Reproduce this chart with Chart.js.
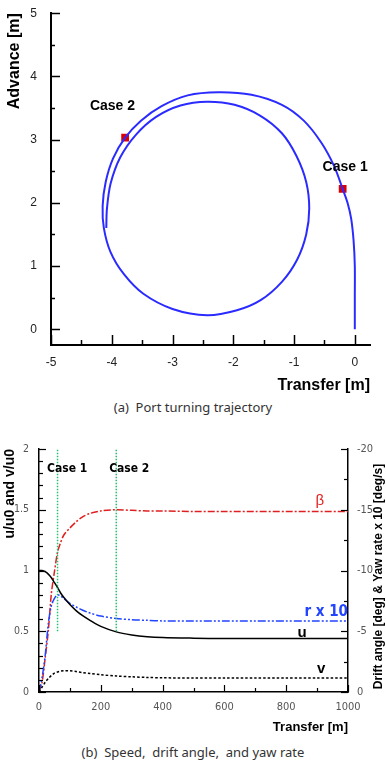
<!DOCTYPE html>
<html>
<head>
<meta charset="utf-8">
<script src="https://cdn.jsdelivr.net/npm/chart.js@4.4.1/dist/chart.umd.min.js"></script>
<style>
  body { margin: 0; width: 386px; height: 760px; overflow: hidden; background: #fff; position: relative; font-family: "Liberation Sans", Arial, sans-serif; }
  canvas { position: absolute; left: 0; }
  .caption { position: absolute; left: 0; width: 386px; text-align: center; font: 13px "Noto Sans", sans-serif; color: #333; }
</style>
</head>
<body>
<canvas id="trajChart" width="386" height="395" style="top:0"></canvas>
<div class="caption" style="top:398px">(a)&nbsp; Port turning trajectory</div>
<canvas id="speedChart" width="386" height="315" style="top:420px"></canvas>
<div class="caption" style="top:743px">(b)&nbsp; Speed,&nbsp; drift angle,&nbsp; and yaw rate</div>

<script>
// ================================
// DATA
// ================================

// (a) trajectory: first loop, then the steady turning circle
const trajX = [0, 0, 0, -0.02, -0.06, -0.12, -0.2, -0.34, -0.55, -0.84, -1.2, -1.7, -2.25, -2.75, -3.18, -3.52, -3.78, -3.98, -4.1, -4.15, -4.13, -4.02, -3.8, -3.48, -3.0, -2.43,
               -1.94, -1.55, -1.2, -0.95, -0.8, -0.75, -0.8, -0.96, -1.2, -1.56, -1.98, -2.43, -2.87, -3.27, -3.6, -3.86, -4.02, -4.08, -4.09];
const trajY = [0, 0.5, 1.0, 1.4, 1.75, 2.0, 2.22, 2.58, 2.95, 3.3, 3.55, 3.71, 3.75, 3.7, 3.53, 3.3, 3.03, 2.7, 2.33, 1.95, 1.6, 1.22, 0.87, 0.56, 0.32, 0.22,
               0.3, 0.46, 0.75, 1.1, 1.5, 1.91, 2.33, 2.74, 3.1, 3.38, 3.55, 3.6, 3.54, 3.36, 3.08, 2.72, 2.3, 1.9, 1.6];
const caseNames = ["Case 1", "Case 2"];
const casePosX = [-0.2, -3.78];
const casePosY = [2.22, 3.03];
const trajXTicks = [-5, -4, -3, -2, -1, 0];
const trajYTicks = [0, 1, 2, 3, 4, 5];

// (b) speed, drift angle, yaw rate
const transfer = [0, 10, 20, 30, 40, 50, 60, 70, 80, 100, 120, 140, 165, 200, 250, 300, 350, 400, 500, 600, 700, 800, 900, 1000];
const uRatio   = [1.0, 1.0, 0.99, 0.97, 0.94, 0.90, 0.86, 0.815, 0.78, 0.72, 0.67, 0.63, 0.59, 0.54, 0.495, 0.47, 0.455, 0.448, 0.443, 0.44, 0.44, 0.44, 0.44, 0.44];
const vRatio   = [0, 0.04, 0.08, 0.11, 0.135, 0.155, 0.165, 0.172, 0.175, 0.175, 0.168, 0.16, 0.152, 0.142, 0.132, 0.125, 0.12, 0.117, 0.115, 0.115, 0.115, 0.115, 0.115, 0.115];
const driftAngle = [0, -0.8, -2.8, -5.0, -8.1, -9.9, -11.5, -12.3, -12.9, -13.5, -14.0, -14.4, -14.7, -14.9, -15.0, -14.95, -14.9, -14.9, -14.85, -14.85, -14.85, -14.85, -14.85, -14.85];
const yawRate10  = [0, -1.2, -3.0, -5.6, -7.1, -7.7, -8.0, -7.9, -7.7, -7.3, -7.0, -6.75, -6.5, -6.25, -6.05, -5.95, -5.9, -5.85, -5.85, -5.85, -5.85, -5.85, -5.85, -5.85];
const caseTransfer = [60, 250];
const caseLineY = [0.5, 2];
const transferTicks = [0, 200, 400, 600, 800, 1000];
const ratioTicks = [0, 0.5, 1, 1.5, 2];
const angleTicks = [-20, -15, -10, -5, 0];

const FONT = '"Liberation Sans", Arial, sans-serif';
const NARROW = '"Liberation Sans Narrow", "DejaVu Sans Condensed", Arial, sans-serif';

// ================================
// PLUGINS
// ================================

// tick marks pointing into the plot area
const innerTicks = {
  id: "innerTicks",
  afterDraw(chart, args, opts) {
    const ctx = chart.ctx;
    const area = chart.chartArea;
    ctx.save();
    ctx.strokeStyle = "#000";
    ctx.lineWidth = opts.width || 1.5;
    (opts.axes || []).forEach(a => {
      const scale = chart.scales[a.id];
      const vals = scale.ticks.map(t => t.value);
      const marks = [];
      vals.forEach(v => marks.push([v, a.len]));
      for (let i = 0; i < vals.length - 1; i++) {
        for (let k = 1; k < a.minorPer; k++) {
          marks.push([vals[i] + (vals[i + 1] - vals[i]) * k / a.minorPer, a.minorLen]);
        }
      }
      marks.forEach(([v, len]) => {
        const p = Math.round(scale.getPixelForValue(v)) + 0.5;
        ctx.beginPath();
        if (a.side === "bottom") { ctx.moveTo(p, area.bottom); ctx.lineTo(p, area.bottom - len); }
        if (a.side === "left")   { ctx.moveTo(area.left, p); ctx.lineTo(area.left + len, p); }
        if (a.side === "right")  { ctx.moveTo(area.right, p); ctx.lineTo(area.right - len, p); }
        ctx.stroke();
      });
    });
    ctx.restore();
  }
};

// free text placed at data positions
const textLabels = {
  id: "textLabels",
  afterDraw(chart, args, opts) {
    const ctx = chart.ctx;
    ctx.save();
    ctx.textBaseline = "middle";
    (opts.items || []).forEach(t => {
      const xs = chart.scales[t.xAxis || "x"];
      const ys = chart.scales[t.yAxis || "y"];
      ctx.font = t.font;
      ctx.fillStyle = t.color || "#000";
      ctx.textAlign = t.align || "left";
      ctx.fillText(t.text, xs.getPixelForValue(t.x), ys.getPixelForValue(t.y));
    });
    (opts.rotated || []).forEach(t => {
      const area = chart.chartArea;
      ctx.translate(t.x, (area.top + area.bottom) / 2 + t.dy);
      ctx.rotate(-Math.PI / 2);
      ctx.font = t.font;
      ctx.fillStyle = "#000";
      ctx.textAlign = "center";
      ctx.fillText(t.text, 0, 0);
      ctx.setTransform(1, 0, 0, 1, 0, 0);
    });
    ctx.restore();
  }
};

function fixedTicks(arr) {
  return scale => { scale.ticks = arr.map(v => ({ value: v })); };
}
const plainLabel = v => String(v);

// ================================
// (a) TRAJECTORY
// ================================
new Chart(document.getElementById("trajChart"), {
  type: "scatter",
  data: {
    datasets: [
      {
        data: trajX.map((x, i) => ({ x: x, y: trajY[i] })),
        showLine: true,
        borderColor: "#2b2bff",
        borderWidth: 2,
        pointRadius: 0,
        tension: 0.3
      },
      {
        data: casePosX.map((x, i) => ({ x: x, y: casePosY[i] })),
        pointStyle: "rect",
        pointRadius: 5.5,
        backgroundColor: "#dd0000",
        borderColor: "#dd0000",
        borderWidth: 0
      }
    ]
  },
  options: {
    responsive: false,
    animation: false,
    layout: { padding: { top: 12, right: 16, left: 0, bottom: 0 } },
    plugins: {
      legend: { display: false },
      tooltip: { enabled: false },
      innerTicks: {
        width: 1.5,
        axes: [
          { id: "x", side: "bottom", len: 10, minorLen: 5, minorPer: 2 },
          { id: "y", side: "left", len: 9, minorLen: 4, minorPer: 2 }
        ]
      },
      textLabels: {
        items: [
          { text: caseNames[1], x: -4.36, y: 3.53, font: "bold 14px " + FONT },
          { text: caseNames[0], x: -0.53, y: 2.56, font: "bold 14px " + FONT }
        ]
      }
    },
    scales: {
      x: {
        type: "linear",
        min: -5,
        max: 0.25,
        afterBuildTicks: fixedTicks(trajXTicks),
        afterFit: s => { s.height = 50; },
        grid: { display: false },
        border: { color: "#000", width: 2 },
        ticks: { color: "#222", padding: 2, font: { family: FONT, size: 12 }, callback: plainLabel },
        title: {
          display: true, text: "Transfer [m]", align: "end", color: "#000",
          padding: { top: 10, bottom: 0 },
          font: { family: FONT, size: 16, weight: "bold" }
        }
      },
      y: {
        type: "linear",
        min: -0.25,
        max: 5,
        afterBuildTicks: fixedTicks(trajYTicks),
        afterFit: s => { s.width = 51; },
        grid: { display: false },
        border: { color: "#000", width: 2 },
        ticks: { color: "#222", padding: 6, font: { family: FONT, size: 12 }, callback: plainLabel },
        title: {
          display: true, text: "Advance [m]", align: "end", color: "#000",
          padding: { top: 5, bottom: 0 },
          font: { family: FONT, size: 16, weight: "bold" }
        }
      }
    }
  },
  plugins: [innerTicks, textLabels]
});

// ================================
// (b) SPEED, DRIFT ANGLE, YAW RATE
// ================================
const lineDefaults = { pointRadius: 0, borderWidth: 1.5, fill: false, tension: 0.3 };

new Chart(document.getElementById("speedChart"), {
  type: "line",
  data: {
    datasets: [
      Object.assign({
        data: caseLineY.map(y => ({ x: caseTransfer[0], y: y })),
        borderColor: "#22c070", borderDash: [1.5, 1.5], yAxisID: "y"
      }, lineDefaults, { tension: 0 }),
      Object.assign({
        data: caseLineY.map(y => ({ x: caseTransfer[1], y: y })),
        borderColor: "#22c070", borderDash: [1.5, 1.5], yAxisID: "y"
      }, lineDefaults, { tension: 0 }),
      Object.assign({
        data: transfer.map((x, i) => ({ x: x, y: vRatio[i] })),
        borderColor: "#000", borderDash: [2.5, 2], yAxisID: "y"
      }, lineDefaults),
      Object.assign({
        data: transfer.map((x, i) => ({ x: x, y: uRatio[i] })),
        borderColor: "#000", yAxisID: "y"
      }, lineDefaults),
      Object.assign({
        data: transfer.map((x, i) => ({ x: x, y: yawRate10[i] })),
        borderColor: "#2244ff", borderDash: [8, 2, 2, 2, 2, 2], yAxisID: "y1"
      }, lineDefaults),
      Object.assign({
        data: transfer.map((x, i) => ({ x: x, y: driftAngle[i] })),
        borderColor: "#e02020", borderDash: [7, 2, 2, 2], yAxisID: "y1"
      }, lineDefaults)
    ]
  },
  options: {
    responsive: false,
    animation: false,
    layout: { padding: { top: 29, right: 0, left: 0, bottom: 0 } },
    plugins: {
      legend: { display: false },
      tooltip: { enabled: false },
      innerTicks: {
        width: 1.2,
        axes: [
          { id: "x", side: "bottom", len: 7, minorLen: 4, minorPer: 2 },
          { id: "y", side: "left", len: 7, minorLen: 4, minorPer: 5 },
          { id: "y1", side: "right", len: 7, minorLen: 4, minorPer: 2 }
        ]
      },
      textLabels: {
        items: [
          { text: caseNames[0], x: 26, y: 1.84, font: "bold 12px " + NARROW },
          { text: caseNames[1], x: 227, y: 1.84, font: "bold 12px " + NARROW },
          { text: "β", x: 909, y: 1.57, align: "center", color: "#e02020", font: "15px " + FONT },
          { text: "r x 10", x: 1000, y: 0.66, align: "right", color: "#2244ff", font: "bold 15px " + NARROW },
          { text: "u", x: 851, y: 0.49, align: "center", font: "bold 15px " + FONT },
          { text: "v", x: 913, y: 0.19, align: "center", font: "bold 15px " + FONT }
        ],
        rotated: [
          { text: "Drift angle [deg] & Yaw rate x 10 [deg/s]", x: 379, dy: 6, font: "bold 12px " + FONT }
        ]
      }
    },
    scales: {
      x: {
        type: "linear",
        min: 0,
        max: 1000,
        afterBuildTicks: fixedTicks(transferTicks),
        afterFit: s => { s.height = 43; },
        grid: { display: false },
        border: { color: "#000", width: 1.5 },
        ticks: { color: "#555", padding: 1, font: { family: NARROW, size: 11 }, callback: plainLabel },
        title: {
          display: true, text: "Transfer [m]", align: "end", color: "#000",
          padding: { top: 11, bottom: 0 },
          font: { family: FONT, size: 13, weight: "bold" }
        }
      },
      y: {
        type: "linear",
        position: "left",
        min: 0,
        max: 2,
        afterBuildTicks: fixedTicks(ratioTicks),
        afterFit: s => { s.width = 39; },
        grid: { display: false },
        border: { color: "#000", width: 1.5 },
        ticks: { color: "#555", padding: 2, font: { family: NARROW, size: 10.5 }, callback: plainLabel },
        title: {
          display: true, text: "u/u0 and v/u0", align: "end", color: "#000",
          padding: { top: 2, bottom: 0 },
          font: { family: FONT, size: 14, weight: "bold" }
        }
      },
      y1: {
        type: "linear",
        position: "right",
        reverse: true,
        min: -20,
        max: 0,
        afterBuildTicks: fixedTicks(angleTicks),
        afterFit: s => { s.width = 38; },
        grid: { display: false },
        border: { color: "#000", width: 1.5 },
        ticks: { color: "#555", padding: 1, font: { family: NARROW, size: 11 }, callback: plainLabel }
      }
    }
  },
  plugins: [innerTicks, textLabels]
});
</script>
</body>
</html>
